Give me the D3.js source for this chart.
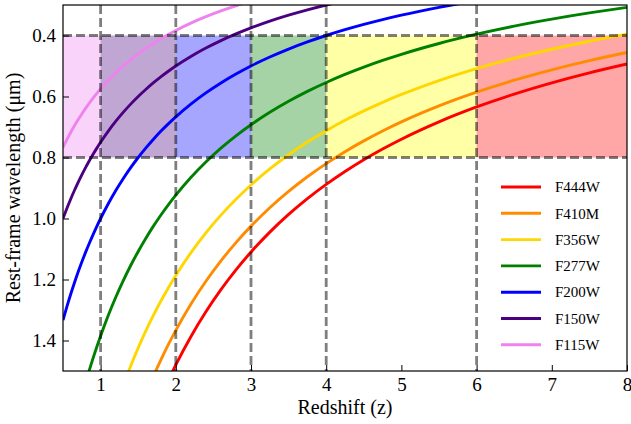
<!DOCTYPE html>
<html>
<head>
<meta charset="utf-8">
<script src="https://cdn.jsdelivr.net/npm/d3@7"></script>
<style>
  body { margin: 0; background: #fff; }
</style>
</head>
<body>
<div id="chart"></div>
<script>
// Filters, in legend order, and their observed wavelengths (μm)
const filters = ['F444W', 'F410M', 'F356W', 'F277W', 'F200W', 'F150W', 'F115W'];
const obsWavelength = [4.44, 4.10, 3.56, 2.77, 2.00, 1.50, 1.15];

// Redshift samples used for the curves
const redshiftGrid = [0.5, 0.55, 0.6, 0.65, 0.7, 0.75, 0.8, 0.85, 0.9, 0.95, 1.0, 1.1, 1.2, 1.3, 1.4,
  1.5, 1.6, 1.7, 1.8, 1.9, 2.0, 2.2, 2.4, 2.6, 2.8, 3.0, 3.25, 3.5, 3.75, 4.0, 4.25, 4.5, 4.75,
  5.0, 5.5, 6.0, 6.5, 7.0, 7.5, 8.0];

// Shaded redshift bands and the rest-frame window
const bandEdges = [0.5, 1, 2, 3, 4, 6, 8];
const bandFilters = ['F115W', 'F150W', 'F200W', 'F277W', 'F356W', 'F444W'];
const restWindow = [0.4, 0.8];
const dividerRedshifts = [1, 2, 3, 4, 6];

const xTicks = [1, 2, 3, 4, 5, 6, 7, 8];
const yTicks = [0.4, 0.6, 0.8, 1.0, 1.2, 1.4];

const lineColor = {
    F444W: '#ff0000', F410M: '#ff8c00', F356W: '#ffd700', F277W: '#008000',
    F200W: '#0000ff', F150W: '#4b0082', F115W: '#ee82ee'
};
const bandColor = {
    F115W: '#ee82ee', F150W: '#4b0082', F200W: '#0000ff', F277W: '#008000',
    F356W: '#ffff00', F444W: '#ff0000'
};

const font = 'Liberation Serif';

const width = 631, height = 424;
const margin = { left: 63, right: 4, top: 5, bottom: 53 };
const plotW = width - margin.left - margin.right;
const plotH = height - margin.top - margin.bottom;

const svg = d3.select('#chart').append('svg')
    .attr('width', width)
    .attr('height', height);

const x = d3.scaleLinear().domain([0.5, 8]).range([0, plotW]);
const y = d3.scaleLinear().domain([0.3, 1.5]).range([0, plotH]);

svg.append('defs').append('clipPath').attr('id', 'clip')
    .append('rect').attr('width', plotW).attr('height', plotH);

const g = svg.append('g').attr('transform', `translate(${margin.left},${margin.top})`);
const plot = g.append('g').attr('clip-path', 'url(#clip)');

// Bandes colorées
plot.selectAll('.band')
    .data(bandFilters.map((f, i) => ({ f, z0: bandEdges[i], z1: bandEdges[i + 1] })))
    .enter()
    .append('rect')
    .attr('x', d => x(d.z0))
    .attr('width', d => x(d.z1) - x(d.z0))
    .attr('y', y(restWindow[0]))
    .attr('height', y(restWindow[1]) - y(restWindow[0]))
    .style('fill', d => bandColor[d.f])
    .style('fill-opacity', 0.35);

// Courbes λ_rest = λ_obs / (1 + z)
const line = d3.line()
    .x(d => x(d[0]))
    .y(d => y(d[1]))
    .curve(d3.curveMonotoneX);

plot.selectAll('.curve')
    .data(filters.map((f, i) => ({ f, pts: redshiftGrid.map(z => [z, obsWavelength[i] / (1 + z)]) })))
    .enter()
    .append('path')
    .attr('d', d => line(d.pts))
    .style('fill', 'none')
    .style('stroke', d => lineColor[d.f])
    .style('stroke-width', 2.9);

// Lignes pointillées
plot.selectAll('.vdash')
    .data(dividerRedshifts)
    .enter()
    .append('line')
    .attr('x1', d => x(d)).attr('x2', d => x(d))
    .attr('y1', 0).attr('y2', plotH)
    .style('stroke', '#000').style('stroke-opacity', 0.5)
    .style('stroke-width', 2.8).style('stroke-dasharray', '9,4');

plot.selectAll('.hdash')
    .data(restWindow)
    .enter()
    .append('line')
    .attr('x1', 0).attr('x2', plotW)
    .attr('y1', d => y(d)).attr('y2', d => y(d))
    .style('stroke', '#000').style('stroke-opacity', 0.5)
    .style('stroke-width', 2.8).style('stroke-dasharray', '9,4');

// Axes
const xAxis = g.append('g').attr('transform', `translate(0,${plotH})`)
    .call(d3.axisBottom(x).tickValues(xTicks).tickFormat(d3.format('d')).tickSizeInner(-6).tickSizeOuter(0).tickPadding(7));
const yAxis = g.append('g')
    .call(d3.axisLeft(y).tickValues(yTicks).tickFormat(d3.format('.1f')).tickSizeInner(-6).tickSizeOuter(0).tickPadding(7));

[xAxis, yAxis].forEach(a => {
    a.select('.domain').remove();
    a.selectAll('.tick line').style('stroke', '#000').style('stroke-width', 1);
    a.selectAll('.tick text')
        .attr('font-family', font)
        .attr('font-size', 19)
        .style('fill', '#000');
});

g.append('rect')
    .attr('width', plotW).attr('height', plotH)
    .style('fill', 'none').style('stroke', '#000').style('stroke-width', 1.2);

// Titres des axes
svg.append('text')
    .attr('x', margin.left + plotW / 2)
    .attr('y', 414)
    .attr('text-anchor', 'middle')
    .attr('font-family', font)
    .attr('font-size', 20)
    .text('Redshift (z)');

svg.append('text')
    .attr('transform', `translate(20,${margin.top + plotH / 2}) rotate(-90)`)
    .attr('text-anchor', 'middle')
    .attr('font-family', font)
    .attr('font-size', 20)
    .text('Rest-frame wavelength (μm)');

// Légende
const legend = svg.append('g').attr('transform', 'translate(501,187)');
const item = legend.selectAll('.item')
    .data(filters)
    .enter()
    .append('g')
    .attr('transform', (d, i) => `translate(0,${i * 26.3})`);

item.append('line')
    .attr('x1', 0).attr('x2', 40)
    .style('stroke', d => lineColor[d])
    .style('stroke-width', 2.9);

item.append('text')
    .attr('x', 54)
    .attr('dy', '0.35em')
    .attr('font-family', font)
    .attr('font-size', 15)
    .text(d => d);
</script>
</body>
</html>
